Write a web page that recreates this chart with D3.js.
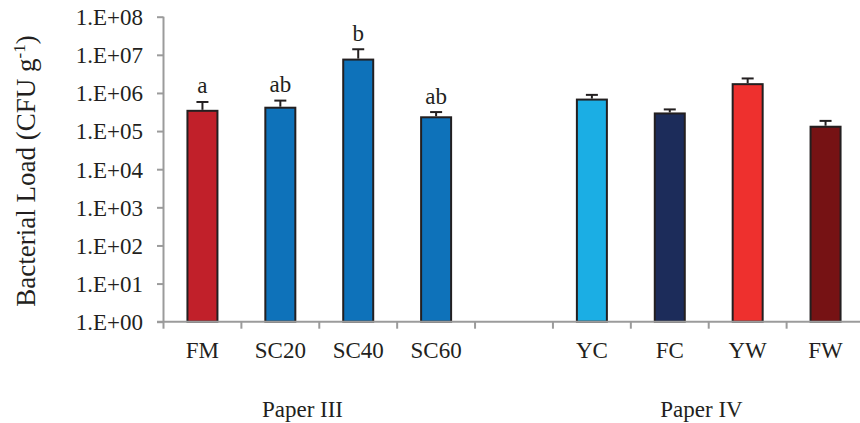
<!DOCTYPE html>
<html>
<head>
<meta charset="utf-8">
<script src="https://cdn.jsdelivr.net/npm/d3@7"></script>
<style>
  html, body { margin: 0; padding: 0; background: #fff; }
  svg { display: block; font-family: "Liberation Serif", "Times New Roman", serif; }
</style>
</head>
<body>
<svg id="chart" width="860" height="423"></svg>
<script>
// Treatments (an empty slot separates the two papers)
const categories = ["FM", "SC20", "SC40", "SC60", "", "YC", "FC", "YW", "FW"];
// Mean bacterial load (CFU g-1) per treatment
const means = [3.4e5, 4.1e5, 7.5e6, 2.3e5, null, 6.7e5, 2.9e5, 1.7e6, 1.3e5];
// Standard error (upper bar only)
const errors = [2.4e5, 2.2e5, 6.5e6, 0.85e5, null, 2.2e5, 0.8e5, 0.7e6, 0.55e5];
// Significance letters
const letters = ["a", "ab", "b", "ab", "", "", "", "", ""];
// Bar fills
const fills = ["#C1202A", "#0E72BA", "#0E72BA", "#0E72BA", null, "#1BAEE4", "#1C2C5A", "#EE302E", "#761214"];
// Y tick values (decades)
const yTicks = [1, 1e1, 1e2, 1e3, 1e4, 1e5, 1e6, 1e7, 1e8];
// Group captions
const groups = [
  { label: "Paper III", x: 302.5 },
  { label: "Paper IV", x: 701.5 }
];

const svg = d3.select("#chart");
const plotLeft = 163.5, plotRight = 864.5, plotTop = 16.7, plotBottom = 321.7;
const fontSize = 23;

const x = d3.scaleBand().domain(categories).range([plotLeft, plotRight]).paddingInner(0).paddingOuter(0);
const y = d3.scaleLog().domain([1, 1e8]).range([plotBottom, plotTop]);

const axisColor = "#9B9B9B";
const ink = "#231F20";
const barW = 30;

const rows = categories.map((c, i) => ({ c, v: means[i], e: errors[i], l: letters[i], f: fills[i] }))
  .filter(d => d.v != null);

// Bars
svg.append("g").selectAll("rect").data(rows).join("rect")
  .attr("x", d => x(d.c) + x.bandwidth() / 2 - barW / 2)
  .attr("y", d => y(d.v))
  .attr("width", barW)
  .attr("height", d => plotBottom - y(d.v))
  .attr("fill", d => d.f)
  .attr("stroke", ink)
  .attr("stroke-width", 2);

// Upper error bars
const eb = svg.append("g").attr("stroke", ink).attr("stroke-width", 2);
eb.selectAll("line.v").data(rows).join("line").attr("class", "v")
  .attr("x1", d => x(d.c) + x.bandwidth() / 2)
  .attr("x2", d => x(d.c) + x.bandwidth() / 2)
  .attr("y1", d => y(d.v) - 1)
  .attr("y2", d => y(d.v + d.e));
eb.selectAll("line.h").data(rows).join("line").attr("class", "h")
  .attr("x1", d => x(d.c) + x.bandwidth() / 2 - 6)
  .attr("x2", d => x(d.c) + x.bandwidth() / 2 + 6)
  .attr("y1", d => y(d.v + d.e))
  .attr("y2", d => y(d.v + d.e));

// Significance letters
svg.append("g").selectAll("text").data(rows.filter(d => d.l)).join("text")
  .attr("x", d => x(d.c) + x.bandwidth() / 2)
  .attr("y", d => y(d.v + d.e) - 8.5)
  .attr("text-anchor", "middle")
  .attr("font-size", fontSize)
  .attr("fill", ink)
  .text(d => d.l);

// Y axis
const yAxis = d3.axisLeft(y).tickValues(yTicks).tickSize(6.5).tickPadding(14)
  .tickFormat(d => "1.E+" + String(Math.round(Math.log10(d))).padStart(2, "0"));
const gy = svg.append("g").attr("transform", `translate(${plotLeft},0)`).call(yAxis);
gy.select(".domain").attr("stroke", axisColor).attr("stroke-width", 2).attr("d", `M0,${plotTop}V${plotBottom}`);
gy.selectAll(".tick line").attr("stroke", axisColor).attr("stroke-width", 2);
gy.selectAll(".tick text").attr("font-size", fontSize).attr("fill", ink)
  .attr("font-family", "Liberation Serif, Times New Roman, serif").attr("dy", "0.34em");

// X axis (ticks on band edges)
const gx = svg.append("g");
gx.append("line")
  .attr("x1", plotLeft - 6.5).attr("x2", plotRight)
  .attr("y1", plotBottom).attr("y2", plotBottom)
  .attr("stroke", axisColor).attr("stroke-width", 2);
gx.selectAll("line.t").data(categories).join("line").attr("class", "t")
  .attr("x1", d => x(d)).attr("x2", d => x(d))
  .attr("y1", plotBottom).attr("y2", plotBottom + 7)
  .attr("stroke", axisColor).attr("stroke-width", 2);
gx.selectAll("text").data(categories.filter(c => c)).join("text")
  .attr("x", d => x(d) + x.bandwidth() / 2)
  .attr("y", plotBottom + 36)
  .attr("text-anchor", "middle")
  .attr("font-size", fontSize)
  .attr("fill", ink)
  .text(d => d);

// Group captions
svg.append("g").selectAll("text").data(groups).join("text")
  .attr("x", d => d.x)
  .attr("y", 416.5)
  .attr("text-anchor", "middle")
  .attr("font-size", fontSize)
  .attr("fill", ink)
  .text(d => d.label);

// Y axis title
const title = svg.append("text")
  .attr("transform", "translate(35,171) rotate(-90)")
  .attr("text-anchor", "middle")
  .attr("font-size", 27)
  .attr("fill", ink);
title.append("tspan").text("Bacterial Load (CFU g");
title.append("tspan").attr("font-size", 17).attr("dy", -10).text("-1");
title.append("tspan").attr("dy", 10).text(")");
</script>
</body>
</html>
